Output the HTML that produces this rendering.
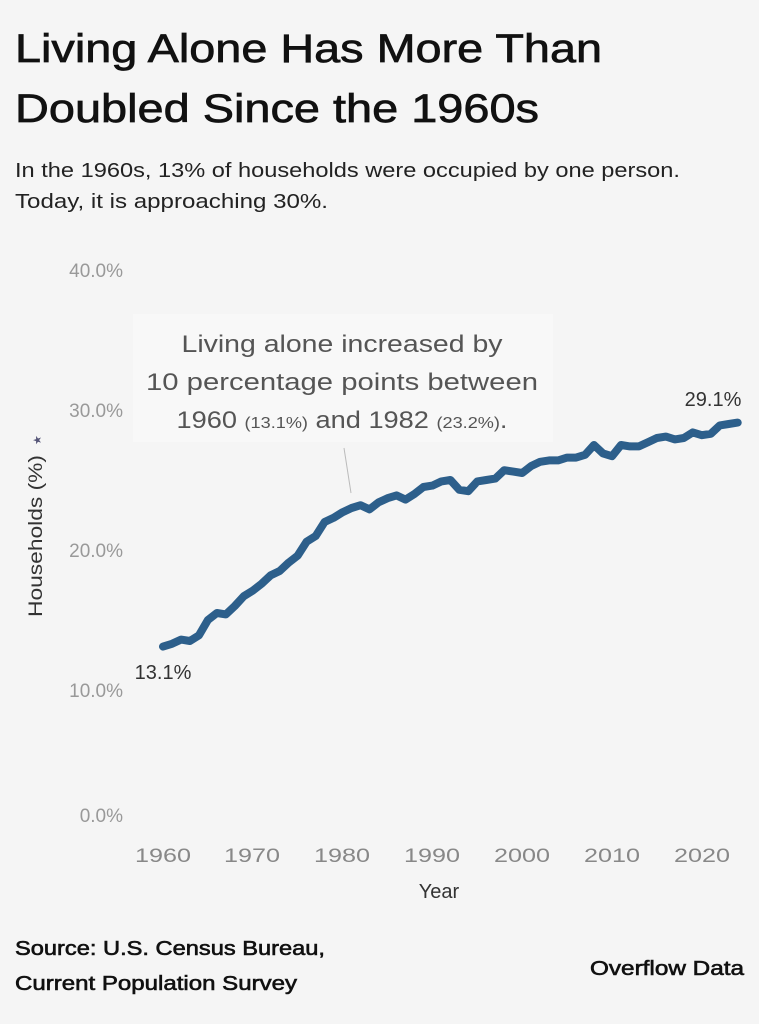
<!DOCTYPE html>
<html><head><meta charset="utf-8"><style>
html,body{margin:0;padding:0;background:#f5f5f5;}
svg{display:block;font-family:"Liberation Sans",sans-serif;}
</style></head><body>
<svg width="759" height="1024" viewBox="0 0 759 1024" xmlns="http://www.w3.org/2000/svg">
<rect width="759" height="1024" fill="#f5f5f5"/>
<g fill="#111" stroke="#111" stroke-width="0.7" font-size="40">
<text x="15" y="62" textLength="587" lengthAdjust="spacingAndGlyphs">Living Alone Has More Than</text>
<text x="15" y="122" textLength="524" lengthAdjust="spacingAndGlyphs">Doubled Since the 1960s</text>
</g>
<g fill="#222" font-size="20">
<text x="15" y="177" textLength="665" lengthAdjust="spacingAndGlyphs">In the 1960s, 13% of households were occupied by one person.</text>
<text x="15" y="208" textLength="313" lengthAdjust="spacingAndGlyphs">Today, it is approaching 30%.</text>
</g>
<g fill="#999" font-size="19" text-anchor="end">
<text x="123" y="277">40.0%</text>
<text x="123" y="417">30.0%</text>
<text x="123" y="557">20.0%</text>
<text x="123" y="697">10.0%</text>
<text x="123" y="822">0.0%</text>
</g>
<g fill="#888" font-size="19" text-anchor="middle">
<text x="163" y="862" textLength="56" lengthAdjust="spacingAndGlyphs">1960</text>
<text x="252" y="862" textLength="56" lengthAdjust="spacingAndGlyphs">1970</text>
<text x="342" y="862" textLength="56" lengthAdjust="spacingAndGlyphs">1980</text>
<text x="432" y="862" textLength="56" lengthAdjust="spacingAndGlyphs">1990</text>
<text x="522" y="862" textLength="56" lengthAdjust="spacingAndGlyphs">2000</text>
<text x="612" y="862" textLength="56" lengthAdjust="spacingAndGlyphs">2010</text>
<text x="702" y="862" textLength="56" lengthAdjust="spacingAndGlyphs">2020</text>
</g>
<text x="439" y="898" fill="#333" font-size="20" text-anchor="middle">Year</text>
<text transform="translate(42,536) rotate(-90)" fill="#333" font-size="19" text-anchor="middle" textLength="162" lengthAdjust="spacingAndGlyphs">Households (%)</text>
<text transform="translate(41,440) rotate(-90)" fill="#557" font-size="11" text-anchor="middle">★</text>
<rect x="133" y="314" width="420" height="128" fill="#f8f8f8"/>
<line x1="344" y1="448" x2="351" y2="493" stroke="#bbb" stroke-width="1"/>
<g fill="#555" font-size="24" text-anchor="middle">
<text x="342" y="352" textLength="321" lengthAdjust="spacingAndGlyphs">Living alone increased by</text>
<text x="342" y="390" textLength="392" lengthAdjust="spacingAndGlyphs">10 percentage points between</text>
<text x="342" y="428" textLength="331" lengthAdjust="spacingAndGlyphs">1960 <tspan font-size="16">(13.1%)</tspan> and 1982 <tspan font-size="16">(23.2%)</tspan>.</text>
</g>
<polyline id="ln" fill="none" stroke="#2d5f8b" stroke-width="8" stroke-linejoin="round" stroke-linecap="round" points=""/>
<text x="163" y="679" fill="#333" font-size="20" text-anchor="middle">13.1%</text>
<text x="713" y="406" fill="#333" font-size="20" text-anchor="middle">29.1%</text>
<g fill="#111" stroke="#111" stroke-width="0.6" font-size="20">
<text x="15" y="955" textLength="310" lengthAdjust="spacingAndGlyphs">Source: U.S. Census Bureau,</text>
<text x="15" y="990" textLength="282" lengthAdjust="spacingAndGlyphs">Current Population Survey</text>
<text x="744" y="975" text-anchor="end" textLength="154" lengthAdjust="spacingAndGlyphs">Overflow Data</text>
</g>
<script>
var v=[13.1,13.3,13.6,13.5,13.9,15.0,15.5,15.4,16.0,16.7,17.1,17.6,18.2,18.5,19.1,19.6,20.6,21.0,22.0,22.3,22.7,23.0,23.2,22.9,23.4,23.7,23.9,23.6,24.0,24.5,24.6,24.9,25.0,24.3,24.2,24.9,25.0,25.1,25.7,25.6,25.5,26.0,26.3,26.4,26.4,26.6,26.6,26.8,27.5,26.9,26.7,27.5,27.4,27.4,27.7,28.0,28.1,27.9,28.0,28.4,28.2,28.3,28.9,29.0,29.1];
var p=v.map(function(d,i){return (163+8.98*i).toFixed(1)+","+(690-14*(d-10)).toFixed(1)}).join(" ");
document.getElementById("ln").setAttribute("points",p);
</script>
</svg>
</body></html>
